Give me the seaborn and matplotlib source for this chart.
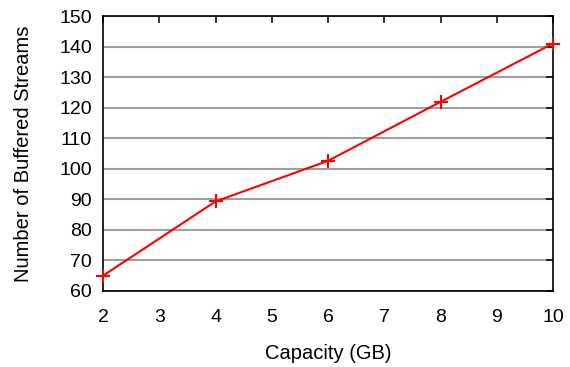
import pandas as pd
import seaborn as sns
import matplotlib.pyplot as plt

capacity = [2, 4, 6, 8, 10]
streams = [65, 89.3, 102.6, 121.9, 141]

df = pd.DataFrame({"Capacity (GB)": capacity, "Buffered Streams": streams})

sns.set_style("white")
plt.rcParams["font.family"] = ["Liberation Sans", "DejaVu Sans"]
plt.rcParams["text.color"] = "black"
plt.rcParams["axes.labelcolor"] = "black"

fig = plt.figure(figsize=(5.7, 3.67), dpi=100)
ax = fig.add_axes([0.1807, 0.2071, 0.7895, 0.7493])

sns.lineplot(data=df, x="Capacity (GB)", y="Buffered Streams", ax=ax,
             color="red", linewidth=1.5, marker="+", markersize=10,
             markeredgewidth=1.5, markeredgecolor="red", zorder=3,
             clip_on=False)

ax.set_xlim(2, 10)
ax.set_ylim(60, 150)
ax.set_xticks(range(2, 11))
ax.set_yticks(range(60, 151, 10))
ax.yaxis.grid(True, color="#a0a0a0", linewidth=1.5)
ax.xaxis.grid(False)
ax.tick_params(direction="in", length=5, width=1.1, top=True, right=True,
               labelsize=14, colors="black")
ax.tick_params(axis="x", pad=13)
ax.tick_params(axis="y", pad=8)
for s in ax.spines.values():
    s.set_linewidth(1.2)
    s.set_color("black")
ax.set_xlabel("Capacity (GB)", fontsize=14.5, labelpad=13, color="black")
ax.set_ylabel("Number of Buffered Streams", fontsize=14.5, labelpad=19, color="black")

fig.savefig("out.png", dpi=100)
